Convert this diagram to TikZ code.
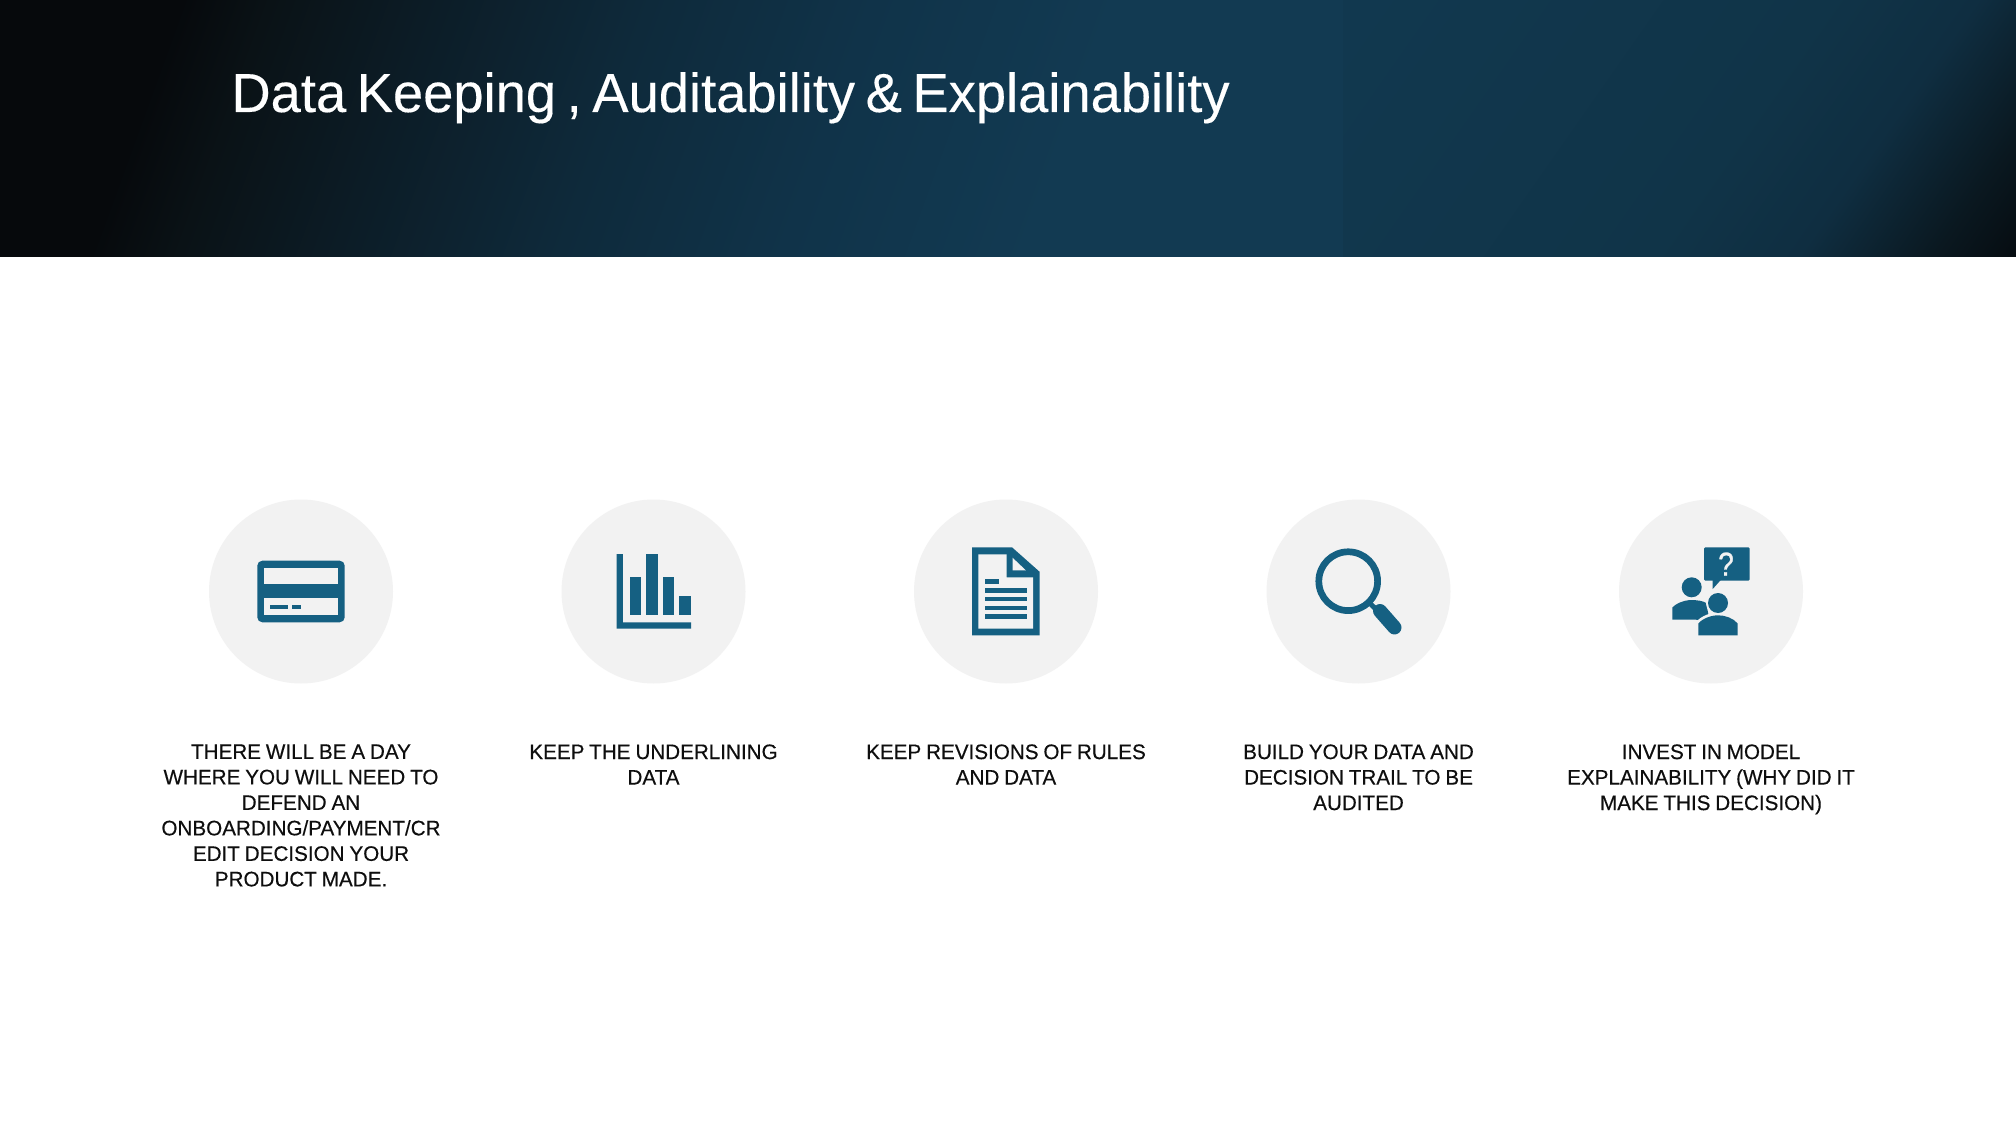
\documentclass[tikz,border=0pt]{standalone}
\usepackage{fontspec}
\setmainfont{Liberation Sans}
\newfontfamily\titlefont[FakeStretch=0.988,FakeBold=0.25,WordSpace=0.7]{Liberation Sans}
\newfontfamily\bodyfont[FakeStretch=0.983,FakeBold=0.35,WordSpace=0.85]{Liberation Sans}
\newfontfamily\qfont[FakeStretch=0.85,FakeBold=0.8]{Liberation Sans}
\definecolor{icon}{HTML}{156082}
\definecolor{disc}{HTML}{F2F2F2}
\definecolor{ink}{HTML}{0E0E0E}
\definecolor{h0}{HTML}{06090C}
\definecolor{hA}{HTML}{0A1216}
\definecolor{hA2}{HTML}{0C1C26}
\definecolor{hB}{HTML}{0E2A3B}
\definecolor{hC}{HTML}{103349}
\definecolor{hD}{HTML}{123A52}
\definecolor{hE}{HTML}{103448}
\definecolor{hF}{HTML}{0F2E41}
\definecolor{hG}{HTML}{0A1820}
\definecolor{hH}{HTML}{050A0E}
\pgfdeclarehorizontalshading{hdrleft}{100bp}{
  color(0bp)=(h0);
  color(26bp)=(h0);
  color(30bp)=(hA);
  color(37bp)=(hA2);
  color(47bp)=(hB);
  color(57bp)=(hC);
  color(68bp)=(hD);
  color(100bp)=(hD)}
\pgfdeclarehorizontalshading{hdrright}{100bp}{
  color(0bp)=(hD);
  color(55bp)=(hE);
  color(67bp)=(hF);
  color(78bp)=(hG);
  color(86bp)=(hH);
  color(100bp)=(hH)}
\tikzset{
  x=0.5pt,y=-0.5pt,
  discnode/.style={circle,fill=disc,draw=none,minimum size=92pt,inner sep=0pt},
  capt/.style={align=center,anchor=north,inner sep=0pt,text=ink,font=\bodyfont\fontsize{10.5}{12.75}\selectfont},
  iconfill/.style={fill=icon,draw=none},
  holefill/.style={fill=disc,draw=none}
}
\begin{document}
\begin{tikzpicture}
\useasboundingbox (0,0) rectangle (2016,1138);
\fill[white] (0,0) rectangle (2016,1138);
\shade[shading=hdrleft,shading angle=-20] (0,0) rectangle (1343,257);
\shade[shading=hdrright,shading angle=-35] (1343,0) rectangle (2016,257);
\node[anchor=base west,inner sep=0pt,text=white,font=\titlefont\fontsize{27.5}{30}\selectfont] (title) at (231,112) {Data Keeping , Auditability \& Explainability};

\node[discnode] (d1) at (301,591.5) {};
\node[discnode] (d2) at (653.5,591.5) {};
\node[discnode] (d3) at (1006,591.5) {};
\node[discnode] (d4) at (1358.5,591.5) {};
\node[discnode] (d5) at (1711,591.5) {};

% card
\fill[iconfill,rounded corners=2.5pt] (257.3,560.7) rectangle (344.7,622.3);
\fill[holefill] (264,567.7) rectangle (338,584.3);
\fill[holefill] (264,598.3) rectangle (338,615.3);
\fill[iconfill] (270,604.7) rectangle (287.7,608.7);
\fill[iconfill] (292,604.7) rectangle (301,608.7);

% chart
\fill[iconfill] (616.6,554) -- (622.9,554) -- (622.9,622.3) -- (691,622.3) -- (691,628.7) -- (616.6,628.7) -- cycle;
\fill[iconfill] (629.5,577.3) rectangle (641.4,615.3);
\fill[iconfill] (646.2,554) rectangle (657.6,615.3);
\fill[iconfill] (662.5,577.3) rectangle (674.3,615.3);
\fill[iconfill] (678.7,595.7) rectangle (691,615.3);

% document
\fill[iconfill] (972,547.3) -- (1012,547.3) -- (1039.5,571.7) -- (1039.5,635.3) -- (972,635.3) -- cycle;
\fill[holefill] (978.3,554.3) -- (1006.5,554.3) -- (1006.5,577.3) -- (1033.2,577.3) -- (1033.2,628.7) -- (978.3,628.7) -- cycle;
\fill[holefill] (1012.5,557.7) -- (1012.5,570.3) -- (1025.8,570.3) -- cycle;
\fill[iconfill] (985,579.3) rectangle (999,584);
\fill[iconfill] (985,588) rectangle (1026.5,592.7);
\fill[iconfill] (985,596.7) rectangle (1026.5,601.3);
\fill[iconfill] (985,605.7) rectangle (1026.5,610.3);
\fill[iconfill] (985,614.3) rectangle (1026.5,619);

% magnifier
\draw[icon,line width=3.35pt] (1348.2,581.2) circle [radius=29.4];
\draw[icon,line width=2.5pt] (1369,602.5) -- (1380,613);
\draw[icon,line width=7pt,line cap=round] (1380,611) -- (1394.5,627.5);

% people
\fill[iconfill,rounded corners=0.6pt] (1704,547.3) rectangle (1749.7,580.7);
\fill[iconfill] (1712.7,580) -- (1712.7,589) -- (1720.7,580) -- cycle;
\node[inner sep=0pt,text=disc,font=\qfont\fontsize{16.5}{16.5}\selectfont] (qm) at (1726,564) {?};
\fill[iconfill] (1691.7,587.3) circle [radius=10];
\fill[iconfill] (1672.3,619.7) -- (1672.3,607.5) .. controls (1676,603.5) and (1683,600.5) .. (1690,600) .. controls (1698,600) and (1703,601) .. (1706,603) -- (1710,622) -- (1696,619.7) -- cycle;
\fill[disc] (1718,603) circle [radius=12];
\fill[disc] (1696,637) -- (1696,622) .. controls (1702,615) and (1712,612.5) .. (1718,612.5) .. controls (1726,612.5) and (1734,615) .. (1740,622) -- (1740,637) -- cycle;
\fill[iconfill] (1718,603) circle [radius=10];
\fill[iconfill] (1698.3,635.3) -- (1698.3,623.5) .. controls (1703,618) and (1712,615.3) .. (1718,615.3) .. controls (1725,615.3) and (1733,618) .. (1737.7,623.5) -- (1737.7,635.3) -- cycle;

\node[capt] (t1) at (301,744) {THERE WILL BE A DAY\\WHERE YOU WILL NEED TO\\DEFEND AN\\ONBOARDING/PAYMENT/CR\\EDIT DECISION YOUR\\PRODUCT MADE.};
\node[capt] (t2) at (653.5,744) {KEEP THE UNDERLINING\\DATA};
\node[capt] (t3) at (1006,744) {KEEP REVISIONS OF RULES\\AND DATA};
\node[capt] (t4) at (1358.5,744) {BUILD YOUR DATA AND\\DECISION TRAIL TO BE\\AUDITED};
\node[capt] (t5) at (1711,744) {INVEST IN MODEL\\EXPLAINABILITY (WHY DID IT\\MAKE THIS DECISION)};
\end{tikzpicture}
\end{document}
